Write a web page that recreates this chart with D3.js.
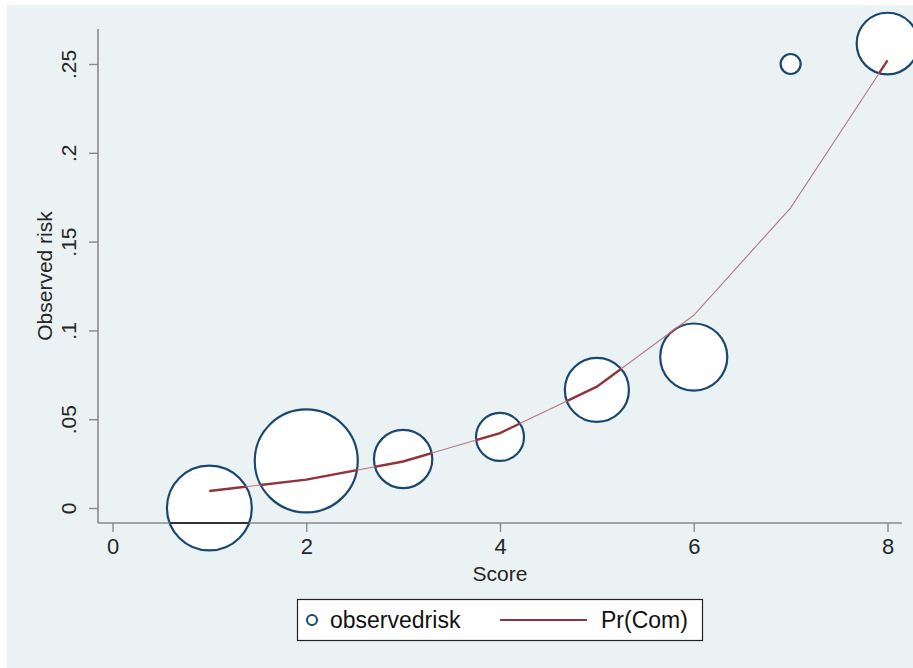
<!DOCTYPE html>
<html>
<head>
<meta charset="utf-8">
<script src="https://cdn.jsdelivr.net/npm/d3@7"></script>
<style>
  html, body { margin: 0; padding: 0; background: #ffffff; }
  svg { display: block; font-family: "Liberation Sans", Arial, sans-serif; }
</style>
</head>
<body>
<svg id="chart" width="913" height="668"></svg>
<script>
// ---- data ----
const scores = [1, 2, 3, 4, 5, 6, 7, 8];
const observedRisk = [0.0, 0.0265, 0.0276, 0.040, 0.0665, 0.085, 0.25, 0.2615];
const weights = [72, 106, 34, 23, 41, 45, 4, 38];
const predicted = [0.0096, 0.0160, 0.0262, 0.0422, 0.0683, 0.1085, 0.1690, 0.2520];
const xTicks = [0, 2, 4, 6, 8];
const xTickLabels = ["0", "2", "4", "6", "8"];
const yTicks = [0, 0.05, 0.1, 0.15, 0.2, 0.25];
const yTickLabels = ["0", ".05", ".1", ".15", ".2", ".25"];
const seriesNames = ["observedrisk", "Pr(Com)"];
const xTitle = "Score";
const yTitle = "Observed risk";

// ---- layout ----
const W = 913, H = 668;
const bg = "#eaf2f3";
const circleColor = "#1a476f";
const lineColor = "#90353b";
const axisColor = "#8a8a8a";
const textColor = "#262626";

const svg = d3.select("#chart");
svg.append("rect").attr("x", 0).attr("y", 0).attr("width", W).attr("height", H).attr("fill", "#ffffff");
svg.append("rect").attr("x", 7).attr("y", 5).attr("width", W - 7).attr("height", H - 5).attr("fill", bg);

const x = d3.scaleLinear().domain([0, 8]).range([112.5, 887.5]);
const y = d3.scaleLinear().domain([0, 0.25]).range([508, 64]);
const r = d3.scaleSqrt().domain([0, d3.max(weights)]).range([0, 51.5]);

const axisLeftX = 98, axisBottomY = 523, axisTopY = 29, axisRightX = 902;

const pts = scores.map((s, i) => ({ s, o: observedRisk[i], w: weights[i], p: predicted[i] }));

// clip path of the bubbles
const defs = svg.append("defs");
const clip = defs.append("clipPath").attr("id", "bubbles");
clip.selectAll("circle").data(pts).join("circle")
  .attr("cx", d => x(d.s)).attr("cy", d => y(d.o)).attr("r", d => r(d.w));

// bubbles
svg.append("g").selectAll("circle").data(pts).join("circle")
  .attr("cx", d => x(d.s)).attr("cy", d => y(d.o)).attr("r", d => r(d.w))
  .attr("fill", "#ffffff").attr("stroke", circleColor).attr("stroke-width", 2.2);

// axes
const axG = svg.append("g");
axG.append("line").attr("x1", axisLeftX).attr("x2", axisLeftX).attr("y1", axisTopY).attr("y2", axisBottomY)
  .attr("stroke", axisColor).attr("stroke-width", 1.6);
axG.append("line").attr("x1", axisLeftX).attr("x2", axisRightX).attr("y1", axisBottomY).attr("y2", axisBottomY)
  .attr("stroke", axisColor).attr("stroke-width", 1.6);
axG.append("line").attr("x1", axisLeftX).attr("x2", axisRightX).attr("y1", axisBottomY).attr("y2", axisBottomY)
  .attr("stroke", "#333").attr("stroke-width", 1.8).attr("clip-path", "url(#bubbles)");

const xAxis = d3.axisBottom(x).tickValues(xTicks).tickFormat((d, i) => xTickLabels[i]).tickSize(9).tickPadding(6);
const xg = svg.append("g").attr("transform", `translate(0,${axisBottomY})`).call(xAxis);
xg.select(".domain").remove();
xg.selectAll(".tick line").attr("stroke", axisColor).attr("stroke-width", 1.4);
xg.selectAll(".tick text").attr("fill", textColor).attr("font-size", 22)
  .attr("font-family", "'Liberation Sans', Arial, sans-serif");

const yAxis = d3.axisLeft(y).tickValues(yTicks).tickFormat((d, i) => yTickLabels[i]).tickSize(9).tickPadding(0);
const yg = svg.append("g").attr("transform", `translate(${axisLeftX},0)`).call(yAxis);
yg.select(".domain").remove();
yg.selectAll(".tick line").attr("stroke", axisColor).attr("stroke-width", 1.4);
yg.selectAll(".tick text")
  .attr("fill", textColor).attr("font-size", 21)
  .attr("font-family", "'Liberation Sans', Arial, sans-serif")
  .attr("x", null).attr("dy", null)
  .attr("text-anchor", "middle")
  .attr("transform", "translate(-22,0) rotate(-90)")
  .attr("y", 0);

// predicted line: thin over background, bold within bubbles
const lineGen = d3.line().x(d => x(d.s)).y(d => y(d.p));
svg.append("path").datum(pts).attr("d", lineGen)
  .attr("fill", "none").attr("stroke", "#b97880").attr("stroke-width", 1.1);
svg.append("path").datum(pts).attr("d", lineGen)
  .attr("fill", "none").attr("stroke", lineColor).attr("stroke-width", 2.4)
  .attr("clip-path", "url(#bubbles)");

// titles
svg.append("text").attr("x", (x(0) + x(8)) / 2).attr("y", 581).attr("text-anchor", "middle")
  .attr("font-size", 21).attr("fill", textColor).text(xTitle);
svg.append("text").attr("transform", `translate(52,${(axisTopY + axisBottomY) / 2}) rotate(-90)`)
  .attr("text-anchor", "middle").attr("font-size", 21).attr("fill", textColor).text(yTitle);

// legend
const lg = svg.append("g");
lg.append("rect").attr("x", 297.5).attr("y", 599.5).attr("width", 405).attr("height", 41)
  .attr("fill", "#ffffff").attr("stroke", "#222").attr("stroke-width", 1.2);
lg.append("circle").attr("cx", 312).attr("cy", 620).attr("r", 5)
  .attr("fill", "#ffffff").attr("stroke", circleColor).attr("stroke-width", 2);
lg.append("text").attr("x", 330).attr("y", 628).attr("font-size", 23).attr("fill", "#111").text(seriesNames[0]);
lg.append("line").attr("x1", 500).attr("x2", 587).attr("y1", 620).attr("y2", 620)
  .attr("stroke", lineColor).attr("stroke-width", 1.8);
lg.append("text").attr("x", 601).attr("y", 628).attr("font-size", 23).attr("fill", "#111").text(seriesNames[1]);
</script>
</body>
</html>
